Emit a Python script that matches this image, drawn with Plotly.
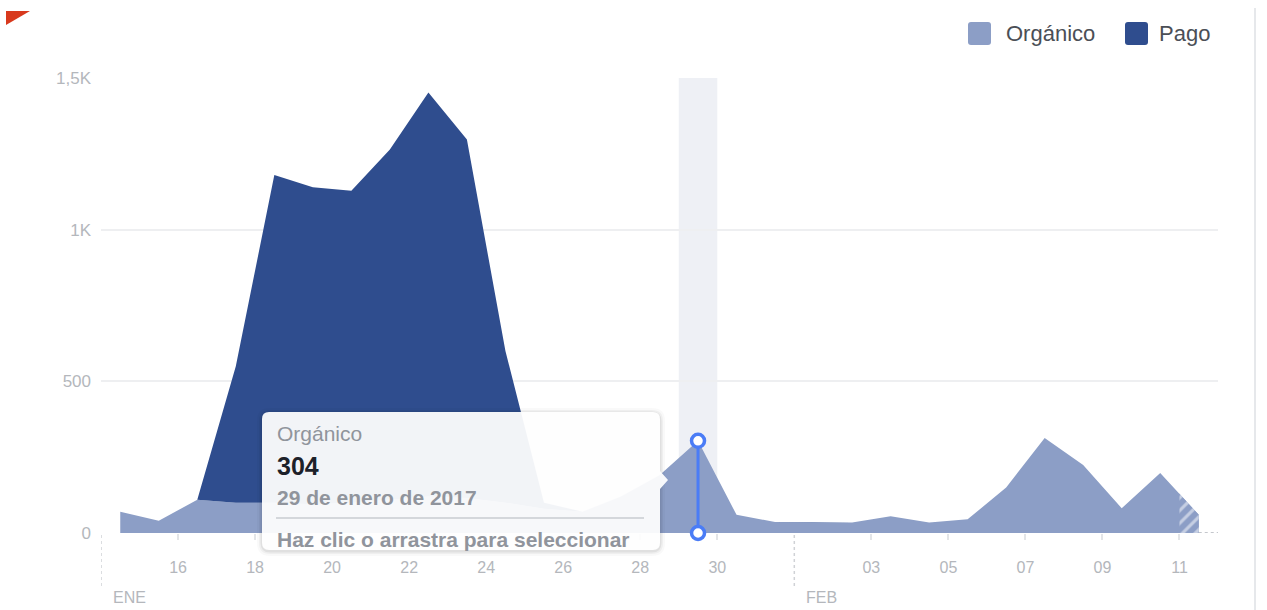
import pandas as pd
import plotly.graph_objects as go

# ---------------- data ----------------
dates = ["2017-01-14", "2017-01-15", "2017-01-16", "2017-01-17", "2017-01-18",
         "2017-01-19", "2017-01-20", "2017-01-21", "2017-01-22", "2017-01-23",
         "2017-01-24", "2017-01-25", "2017-01-26", "2017-01-27", "2017-01-28",
         "2017-01-29", "2017-01-30", "2017-01-31", "2017-02-01", "2017-02-02",
         "2017-02-03", "2017-02-04", "2017-02-05", "2017-02-06", "2017-02-07",
         "2017-02-08", "2017-02-09", "2017-02-10", "2017-02-11"]
organic = [70, 40, 110, 100, 100, 95, 100, 110, 120, 115,
           100, 80, 70, 120, 190, 304, 60, 36, 35, 35,
           55, 35, 45, 150, 313, 224, 82, 198, 60]
paid = [0, 0, 0, 450, 1080, 1045, 1028, 1154, 1332, 1182,
        500, 20, 0, 0, 0, 0, 0, 0, 0, 0,
        0, 0, 0, 0, 0, 0, 0, 0, 0]
series_names = ["Orgánico", "Pago"]

y_tick_vals = [0, 500, 1000, 1500]
y_tick_text = ["0", "500", "1K", "1,5K"]
x_tick_dates = ["2017-01-16", "2017-01-18", "2017-01-20", "2017-01-22", "2017-01-24",
                "2017-01-26", "2017-01-28", "2017-01-30", "2017-02-03", "2017-02-05",
                "2017-02-07", "2017-02-09", "2017-02-11"]
x_tick_text = ["16", "18", "20", "22", "24", "26", "28", "30", "03", "05", "07", "09", "11"]
months = ["ENE", "FEB"]
month_marks = ["2017-01-14", "2017-02-01"]
x_range = ["2017-01-14", "2017-02-12"]

highlight = 15  # 29 de enero
tooltip_title = "Orgánico"
tooltip_value = "304"
tooltip_date = "29 de enero de 2017"
tooltip_hint = "Haz clic o arrastra para seleccionar"

# ---------------- style ----------------
C_ORG = "#8c9ec6"
C_PAID = "#2f4d8e"
C_BLUE = "#4a7cf6"
FONT = "Liberation Sans, Arial, sans-serif"

W, H = 1267, 610
L, R, T, B = 101, 1218, 78, 533


def px(x):
    return (x - L) / (R - L)


def py(y):
    return (B - y) / (B - T)


def rrect(x0, y0, x1, y1, r, arrow=None):
    pts = [f"M {px(x0 + r)},{py(y0)}", f"L {px(x1 - r)},{py(y0)}",
           f"Q {px(x1)},{py(y0)} {px(x1)},{py(y0 + r)}"]
    if arrow:
        ay, ah, aw = arrow
        pts += [f"L {px(x1)},{py(ay - ah)}", f"L {px(x1 + aw)},{py(ay)}",
                f"L {px(x1)},{py(ay + ah)}"]
    pts += [f"L {px(x1)},{py(y1 - r)}", f"Q {px(x1)},{py(y1)} {px(x1 - r)},{py(y1)}",
            f"L {px(x0 + r)},{py(y1)}", f"Q {px(x0)},{py(y1)} {px(x0)},{py(y1 - r)}",
            f"L {px(x0)},{py(y0 + r)}", f"Q {px(x0)},{py(y0)} {px(x0 + r)},{py(y0)}", "Z"]
    return " ".join(pts)


xs = pd.to_datetime(dates) + pd.Timedelta(hours=12)

fig = go.Figure()
fig.add_trace(go.Scatter(x=xs, y=organic, name=series_names[0], mode="lines",
                         stackgroup="one", line=dict(width=0, color=C_ORG),
                         fillcolor=C_ORG, hoverinfo="skip"))
fig.add_trace(go.Scatter(x=xs, y=paid, name=series_names[1], mode="lines",
                         stackgroup="one", line=dict(width=0, color=C_PAID),
                         fillcolor=C_PAID, hoverinfo="skip"))
# hatched (incomplete) last day, drawn on an axis that covers only the last day
fig.add_trace(go.Scatter(x=xs[-2:], y=organic[-2:], xaxis="x2", yaxis="y", mode="lines",
                         fill="tozeroy", line=dict(width=0, color=C_ORG),
                         fillcolor=C_ORG,
                         fillpattern=dict(shape="/", bgcolor=C_ORG, fgcolor="white",
                                          size=9, solidity=0.35),
                         hoverinfo="skip", showlegend=False))
# hover marker
fig.add_trace(go.Scatter(x=[xs[highlight], xs[highlight]], y=[0, organic[highlight]],
                         mode="lines+markers", cliponaxis=False,
                         line=dict(color=C_BLUE, width=3),
                         marker=dict(size=13, color="white", line=dict(color=C_BLUE, width=3.5)),
                         hoverinfo="skip", showlegend=False))

start = pd.Timestamp(x_range[0])
end = pd.Timestamp(x_range[1])
last_day = pd.Timestamp(dates[-1])
d2 = (last_day - start) / (end - start)

shapes = []
# highlighted day band
shapes.append(dict(type="rect", xref="x", yref="paper",
                   x0=dates[highlight], x1=dates[highlight + 1], y0=0, y1=1,
                   fillcolor="#eef0f5", line=dict(width=0), layer="below"))
# month dividers
for m in month_marks:
    shapes.append(dict(type="line", xref="x", yref="paper", x0=m, x1=m,
                       y0=py(535), y1=py(588),
                       line=dict(color="#d0d2d6", width=1.5, dash="dot")))
# trailing dotted baseline
shapes.append(dict(type="line", xref="x", yref="y", x0=xs[-1], x1=x_range[1], y0=0, y1=0,
                   line=dict(color="#c4c7cc", width=2, dash="dot")))
# tooltip shadow + body
for i, a in [(5, 0.025), (3, 0.04), (1.5, 0.06)]:
    shapes.append(dict(type="path", xref="paper", yref="paper",
                       path=rrect(262 - i, 412 - i + 1, 660 + i, 550 + i + 1, 8 + i),
                       fillcolor=f"rgba(0,0,0,{a})", line=dict(width=0), layer="above"))
shapes.append(dict(type="path", xref="paper", yref="paper",
                   path=rrect(262, 412, 660, 550, 7, arrow=(480, 9, 8)),
                   fillcolor="rgba(255,255,255,0.94)", line=dict(width=0), layer="above"))
shapes.append(dict(type="line", xref="paper", yref="paper", x0=px(276), x1=px(644),
                   y0=py(518), y1=py(518), line=dict(color="#c9ccd1", width=1.5),
                   layer="above"))
# legend squares
for x0, c in [(968, C_ORG), (1125, C_PAID)]:
    shapes.append(dict(type="path", xref="paper", yref="paper",
                       path=rrect(x0, 22, x0 + 23, 45, 3),
                       fillcolor=c, line=dict(width=0)))
# right border line of the page
shapes.append(dict(type="line", xref="paper", yref="paper", x0=px(1255), x1=px(1255),
                   y0=py(8), y1=py(610), line=dict(color="#e6e8eb", width=2)))
# red corner fragment
shapes.append(dict(type="path", xref="paper", yref="paper",
                   path=f"M {px(6)},{py(11)} L {px(30)},{py(11)} L {px(6)},{py(25)} Z",
                   fillcolor="#d8391d", line=dict(width=0)))

ann = []
for m, lab in zip(month_marks, months):
    ann.append(dict(x=m, y=py(597), xref="x", yref="paper", text=lab, showarrow=False,
                    xanchor="left", yanchor="middle", xshift=10,
                    font=dict(size=16, color="#b4b7bc", family=FONT)))
for name, x0 in [(series_names[0], 1004), (series_names[1], 1157)]:
    ann.append(dict(x=px(x0), y=py(34), xref="paper", yref="paper", text=name,
                    showarrow=False, xanchor="left", yanchor="middle",
                    font=dict(size=22, color="#4b4f56", family=FONT)))
tip = [(tooltip_title, 433, 21, "#90949c", False),
       (tooltip_value, 466, 25, "#1d2129", True),
       (tooltip_date, 497, 21, "#90949c", True),
       (tooltip_hint, 539, 21, "#90949c", True)]
for txt, y, s, c, b in tip:
    ann.append(dict(x=px(275), y=py(y), xref="paper", yref="paper",
                    text=f"<b>{txt}</b>" if b else txt, showarrow=False,
                    xanchor="left", yanchor="middle",
                    font=dict(size=s, color=c, family=FONT)))

fig.update_layout(
    width=W, height=H, autosize=False,
    margin=dict(l=L, r=W - R, t=T, b=H - B, pad=0),
    paper_bgcolor="white", plot_bgcolor="rgba(0,0,0,0)",
    showlegend=False,
    font=dict(family=FONT),
    xaxis=dict(type="date", range=x_range, tickvals=x_tick_dates, ticktext=x_tick_text,
               showgrid=False, zeroline=False, showline=False,
               ticks="outside", ticklen=6, tickwidth=1.5, tickcolor="#e3e5e8",
               ticklabelstandoff=14,
               tickfont=dict(size=16, color="#b4b7bc", family=FONT)),
    xaxis2=dict(type="date", range=[dates[-1], x_range[1]], domain=[d2, 1], anchor="y",
                visible=False, showgrid=False),
    yaxis=dict(range=[0, 1500], tickvals=y_tick_vals, ticktext=y_tick_text,
               showgrid=True, gridcolor="#eeeff1", gridwidth=1.5, zeroline=False,
               showline=False, ticks="", ticklabelstandoff=9,
               tickfont=dict(size=17, color="#b4b7bc", family=FONT)),
    shapes=shapes, annotations=ann,
)

fig.write_html("out.html", config={"displayModeBar": False},
               post_script="document.body.style.margin='0';document.body.style.overflow='hidden';")
